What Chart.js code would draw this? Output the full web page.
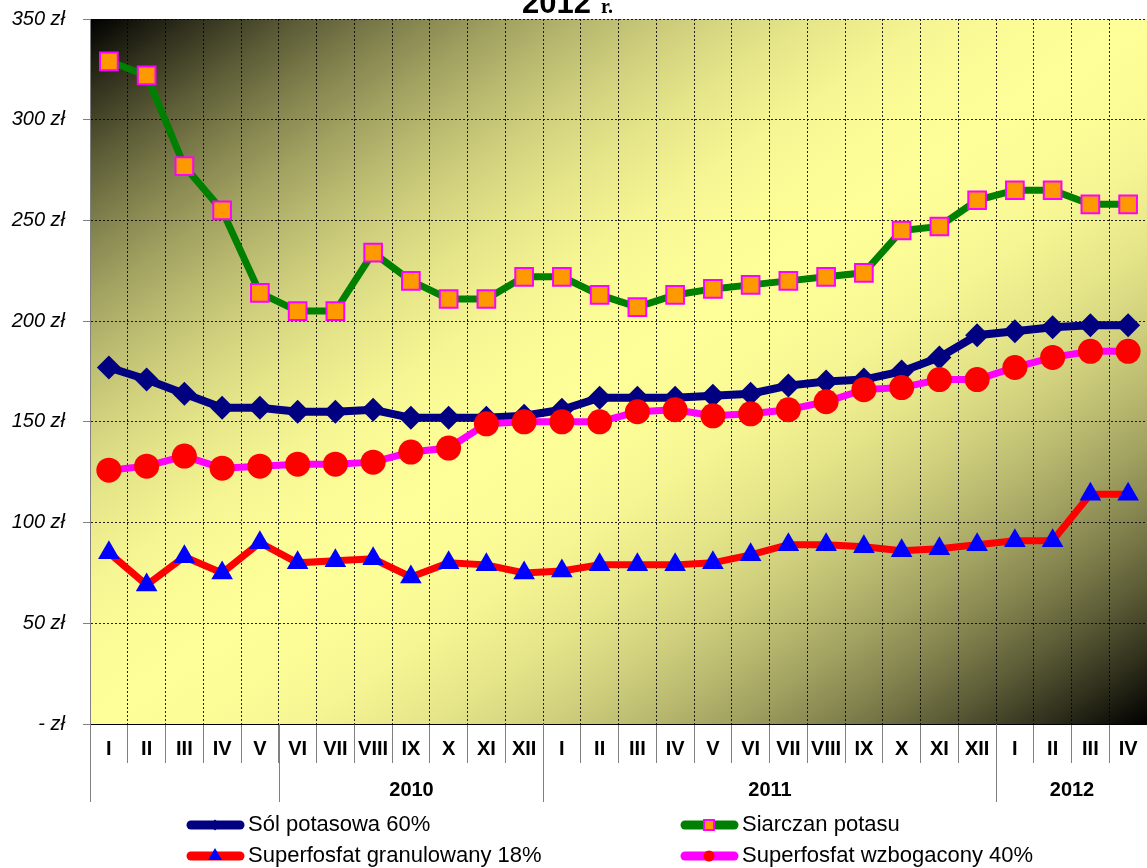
<!DOCTYPE html>
<html>
<head>
<meta charset="utf-8">
<script src="https://cdn.jsdelivr.net/npm/chart.js@4.4.1/dist/chart.umd.min.js"></script>
<style>
    html, body { margin: 0; padding: 0; background: #fff; overflow: hidden; }
    #chart { display: block; }
</style>
</head>
<body>
<canvas id="chart" width="1147" height="868"></canvas>
<script>
// Miesiące (oś X).
const months = [
    'I', 'II', 'III', 'IV', 'V', 'VI', 'VII', 'VIII', 'IX', 'X', 'XI', 'XII',
    'I', 'II', 'III', 'IV', 'V', 'VI', 'VII', 'VIII', 'IX', 'X', 'XI', 'XII',
    'I', 'II', 'III', 'IV',
]

// Grupy lat pod miesiącami (etykieta i liczba miesięcy).
const yearLabels = ['', '2010', '2011', '2012']
const yearSpans = [5, 7, 12, 4]

// Ceny, zł.
const solPotasowa = [177, 171, 164, 157, 157, 155, 155, 156, 152, 152, 152, 153, 156, 162, 162, 162, 163, 164, 168, 170, 171, 175, 182, 193, 195, 197, 198, 198]
const siarczanPotasu = [329, 322, 277, 255, 214, 205, 205, 234, 220, 211, 211, 222, 222, 213, 207, 213, 216, 218, 220, 222, 224, 245, 247, 260, 265, 265, 258, 258]
const superfosfatGranulowany = [85, 69, 83, 75, 90, 80, 81, 82, 73, 80, 79, 75, 76, 79, 79, 79, 80, 84, 89, 89, 88, 86, 87, 89, 91, 91, 114, 114]
const superfosfatWzbogacony = [126, 128, 133, 127, 128, 129, 129, 130, 135, 137, 149, 150, 150, 150, 155, 156, 153, 154, 156, 160, 166, 167, 171, 171, 177, 182, 185, 185]

const FONT = "'Liberation Sans', Arial, sans-serif"

// Tło obszaru wykresu: ukośny gradient ciemny - żółty - ciemny.
const plotBackground = {
    id: 'plotBackground',
    beforeDraw(chart) {
        const { ctx, chartArea: a } = chart
        const w = a.right - a.left
        const h = a.bottom - a.top
        const k = 2 * w * h / (w * w + h * h)
        const g = ctx.createLinearGradient(a.left, a.top, a.left + k * h, a.top + k * w)
        for (let i = 0; i <= 20; i++) {
            const f = i / 20
            const t = f <= 0.5 ? f * 2 : (1 - f) * 2
            const b = 1 - (1 - t) * (1 - t)
            g.addColorStop(f, `rgb(${Math.round(255 * b)}, ${Math.round(255 * b)}, ${Math.round(153 * b)})`)
        }
        ctx.save()
        ctx.fillStyle = g
        ctx.fillRect(a.left, a.top, w, h)
        ctx.restore()
    },
}

// Druga linia osi X: lata.
const yearAxis = {
    id: 'yearAxis',
    afterDraw(chart) {
        const { ctx, scales: { x } } = chart
        const edge = i => Math.round(x.getPixelForValue(i - 0.5)) + 0.5
        ctx.save()
        ctx.strokeStyle = '#808080'
        ctx.lineWidth = 1
        ctx.fillStyle = '#000'
        ctx.font = `bold 20px ${FONT}`
        ctx.textAlign = 'center'
        ctx.textBaseline = 'middle'
        let start = 0
        const bounds = [0]
        yearSpans.forEach((span, i) => {
            const end = start + span
            bounds.push(end)
            ctx.fillText(yearLabels[i], (edge(start) + edge(end)) / 2, x.top + 66)
            start = end
        })
        bounds.forEach(b => {
            ctx.beginPath()
            ctx.moveTo(edge(b), x.top)
            ctx.lineTo(edge(b), x.top + 78)
            ctx.stroke()
        })
        ctx.restore()
    },
}

// Legenda w dwóch kolumnach.
const twoColumnLegend = {
    id: 'twoColumnLegend',
    afterDraw(chart) {
        const { ctx } = chart
        const places = [
            { x: 187, y: 825 },
            { x: 681, y: 825 },
            { x: 187, y: 856 },
            { x: 681, y: 856 },
        ]
        const markerSize = [5.5, 7, 8, 5.5]
        ctx.save()
        chart.data.datasets.forEach((ds, i) => {
            const p = places[i]
            ctx.strokeStyle = ds.borderColor
            ctx.lineWidth = 9
            ctx.lineCap = 'round'
            ctx.beginPath()
            ctx.moveTo(p.x + 4, p.y)
            ctx.lineTo(p.x + 53, p.y)
            ctx.stroke()
            ctx.lineCap = 'butt'
            ctx.fillStyle = ds.pointBackgroundColor
            ctx.strokeStyle = ds.pointBorderColor
            ctx.lineWidth = ds.pointBorderWidth
            Chart.helpers.drawPoint(ctx, {
                pointStyle: ds.pointStyle,
                radius: markerSize[i],
                rotation: 0,
                borderWidth: ds.pointBorderWidth,
            }, p.x + 28, p.y)
            ctx.fillStyle = '#000'
            ctx.font = `22px ${FONT}`
            ctx.textAlign = 'left'
            ctx.textBaseline = 'middle'
            ctx.fillText(ds.label, p.x + 61, p.y)
        })
        ctx.restore()
    },
}

// Obcięty tytuł u góry.
const titleTail = {
    id: 'titleTail',
    afterDraw(chart) {
        const { ctx } = chart
        ctx.save()
        ctx.fillStyle = '#000'
        ctx.textBaseline = 'alphabetic'
        ctx.textAlign = 'left'
        ctx.font = `bold 31px ${FONT}`
        ctx.fillText('2012', 522, 13)
        ctx.font = "bold 20px 'Liberation Serif', 'Times New Roman', serif"
        ctx.fillText('r.', 601, 13)
        ctx.restore()
    },
}

const canvas = document.querySelector('#chart')

new Chart(canvas, {
    type: 'line',
    data: {
        labels: months,
        datasets: [
            {
                label: 'Sól potasowa 60%',
                data: solPotasowa,
                borderColor: '#000080',
                backgroundColor: '#000080',
                borderWidth: 8,
                pointStyle: 'rectRot',
                pointRadius: 12,
                pointBackgroundColor: '#000080',
                pointBorderColor: '#000080',
                pointBorderWidth: 0,
                order: 3,
            },
            {
                label: 'Siarczan potasu',
                data: siarczanPotasu,
                borderColor: '#008000',
                backgroundColor: '#008000',
                borderWidth: 7,
                pointStyle: 'rect',
                pointRadius: 12.5,
                pointBackgroundColor: '#FF9900',
                pointBorderColor: '#FF00FF',
                pointBorderWidth: 2,
                order: 2,
            },
            {
                label: 'Superfosfat granulowany 18%',
                data: superfosfatGranulowany,
                borderColor: '#FF0000',
                backgroundColor: '#FF0000',
                borderWidth: 7,
                pointStyle: 'triangle',
                pointRadius: 12.5,
                pointBackgroundColor: '#0000FF',
                pointBorderColor: '#0000FF',
                pointBorderWidth: 0,
                order: 1,
            },
            {
                label: 'Superfosfat wzbogacony 40%',
                data: superfosfatWzbogacony,
                borderColor: '#FF00FF',
                backgroundColor: '#FF00FF',
                borderWidth: 7,
                pointStyle: 'circle',
                pointRadius: 12.5,
                pointBackgroundColor: '#FF0000',
                pointBorderColor: '#FF0000',
                pointBorderWidth: 0,
                order: 0,
            },
        ],
    },
    options: {
        responsive: false,
        animation: false,
        layout: { autoPadding: false, padding: { top: 19, bottom: 64, left: 0, right: 0 } },
        plugins: {
            legend: { display: false },
            title: { display: false },
            tooltip: { enabled: false },
        },
        scales: {
            x: {
                offset: true,
                grid: {
                    offset: true,
                    color: 'rgba(0, 0, 0, 0.85)',
                    lineWidth: 1,
                    tickLength: 39,
                    tickColor: '#808080',
                    tickBorderDash: [],
                },
                border: { color: '#000', width: 1, dash: [2, 2] },
                ticks: {
                    color: '#000',
                    font: { family: FONT, size: 20, weight: 'bold' },
                    padding: -26,
                    maxRotation: 0,
                    autoSkip: false,
                },
                afterFit(scale) {
                    scale.height = 80
                    scale.paddingLeft = 0
                    scale.paddingRight = 0
                },
            },
            y: {
                min: 0,
                max: 350,
                grid: {
                    color: 'rgba(0, 0, 0, 0.85)',
                    lineWidth: 1,
                    tickLength: 7,
                    tickColor: '#808080',
                    tickBorderDash: [],
                },
                border: { color: '#808080', width: 1, dash: [2, 2] },
                ticks: {
                    stepSize: 50,
                    color: '#000',
                    font: { family: FONT, size: 20, style: 'italic' },
                    padding: 18,
                    callback: v => (v === 0 ? '- zł' : v + ' zł'),
                },
                afterFit(scale) {
                    scale.width = 90
                    scale.paddingTop = 0
                    scale.paddingBottom = 0
                },
            },
        },
    },
    plugins: [plotBackground, yearAxis, twoColumnLegend, titleTail],
})
</script>
</body>
</html>
